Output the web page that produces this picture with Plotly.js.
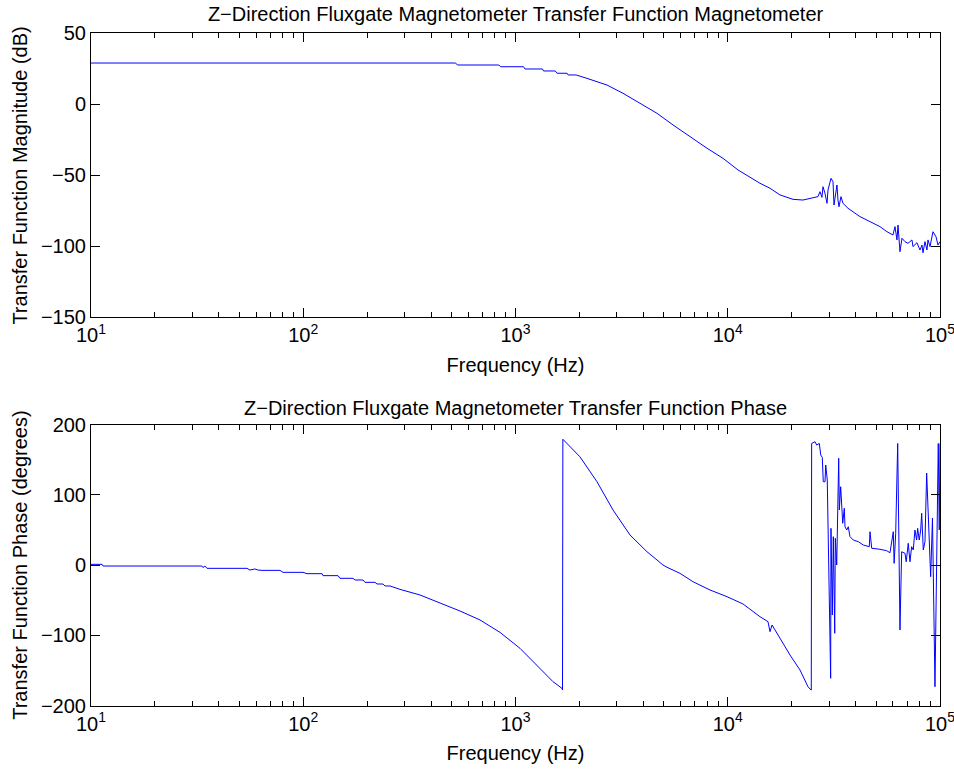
<!DOCTYPE html>
<html>
<head>
<meta charset="utf-8">
<script src="https://cdn.plot.ly/plotly-3.0.1.min.js"></script>
<style>html,body{margin:0;padding:0;background:#fff;}#chart{width:954px;height:770px;}</style>
</head>
<body>
<div id="chart"></div>
<script>
// ---- Data ----
const magFreq = [10, 520, 535, 835, 850, 1090, 1110, 1340, 1355, 1540, 1570, 1750, 1770, 1930,
  2172, 2699, 3210, 3860, 4642, 5521, 6640, 7986, 9497, 11180, 14190, 15820, 17630, 20300,
  22620, 25210, 26620, 27200, 27800, 28100, 28730, 29360, 29680, 30660, 31330, 31670, 32010,
  32710, 33070, 33430, 34170, 34910, 36870, 42000, 46800, 52150, 56270, 60060, 61380, 62730,
  63420, 64800, 66220, 68420, 70670, 73810, 74610, 77920, 80500, 82270, 83170, 84980, 86840,
  87800, 89740, 92690, 95750, 97860, 100000];
const magDb = [29.2, 29.2, 27.8, 27.8, 26.6, 26.6, 25.0, 25.0, 23.6, 23.6, 22.0, 22.0, 20.8, 20.8,
  18.4, 13.7, 7.9, 0.8, -6.2, -14.4, -22.7, -30.8, -37.9, -46.1, -55.5, -59, -63.7, -66.8,
  -67.3, -65.4, -64.9, -61.4, -65.4, -57.9, -62.6, -69.6, -60.2, -52, -54.4, -70.8, -64.9,
  -56.7, -67.3, -72, -64.9, -69.6, -73.1, -79, -82.5, -86, -89.6, -91.9, -86, -95.4,
  -84.9, -103.7, -94.2, -96.6, -97.8, -95.4, -100.1, -97.3, -102.5, -99, -104.4, -96.6, -102.5,
  -95.4, -100.1, -89.6, -93.1, -99, -96.6];

const phaseFreq = [10, 11.27, 11.4, 33.3, 33.7, 34.4, 35.2, 54.3, 56.1, 59.2, 61.1, 63.9, 77.7, 80.3,
  99.7, 104.2, 122.6, 123.9, 145.8, 149, 171.6, 175.4, 191.2, 195.4, 217.8, 222.6, 237.6, 242.8,
  256.3, 285.6, 354.8, 441, 547.6, 680.3, 845.3, 1050, 1305, 1502, 1656, 1665, 1672, 1748, 2013,
  2421, 2881, 3464, 4165, 4642, 4954, 5173, 5768, 5957, 6860, 8250, 9920, 11800, 14190, 15480,
  15820, 16170, 17630, 19650, 21900, 23880, 24680, 24750, 24850, 25770, 26250, 27010, 27430,
  27890, 28190, 28730, 28950, 29440, 30550, 30650, 31100, 31440, 31920, 32130, 32620, 33330,
  33560, 34060, 34810, 35420, 35690, 36360, 36980, 37670, 39040, 41230, 43520, 46450, 46800,
  47690, 52150, 56090, 58130, 60260, 60810, 61850, 63210, 64800, 66000, 68420, 69330, 70870,
  72210, 73540, 74830, 76230, 77640, 78480, 79860, 81130, 82000, 83440, 84980, 86560, 90390,
  92190, 94720, 98170, 99240, 100000];
const phaseDeg = [1.1, 1.1, -1.3, -1.3, -3.5, -1.3, -4.6, -4.6, -7, -5.5, -7, -7.5, -7.5, -10.3,
  -10.3, -12.2, -12.2, -15, -15, -18.8, -18.8, -21.2, -21.2, -24.5, -24.5, -26.9, -26.9, -29.7,
  -29.7, -34.5, -42.5, -53.4, -65.3, -78, -95.7, -118.4, -146.9, -165.8, -175.3, -177.5, 179, 173, 154,
  118.6, 78.4, 42.8, 19, 7.3, 0.1, -3.1, -9.4, -11.7, -23.6, -35.4, -44.9, -55.3, -73.4, -80.5,
  -94.7, -85.2, -104, -127.9, -149.2, -173, -177.7, -177.7, 173, 175.5, 170.8, 173, 156.6,
  153.3, 118.6, 118.6, 142.4, 121, -161, 52.3, -71, 40.4, -97, 38.1, 0.1, 151.9,
  78.4, 111.5, 59.5, 80.8, 54.6, 49.9, 54.6, 40.4, 35.7, 33.3, 28.6, 26.2, 47.5,
  23.9, 22.5, 20.5, 17.6, 47.5, 2.5, 45.2, 173, -92.3, 19, 16.8, 4.8, 31,
  4.8, 26.2, 21.5, 49.9, 35.7, 52.3, 35.7, 49.9, 73.7, 21.5, 33.3, 131, -16.5,
  67, -173, 173, 50, 173];

const decadeVals = [10, 100, 1000, 10000, 100000];
const decadeText = ['10<sup>1</sup>', '10<sup>2</sup>', '10<sup>3</sup>', '10<sup>4</sup>', '10<sup>5</sup>'];
const topTitle = 'Z\u2212Direction Fluxgate Magnetometer Transfer Function Magnetometer';
const bottomTitle = 'Z\u2212Direction Fluxgate Magnetometer Transfer Function Phase';
const xLabel = 'Frequency (Hz)';
const magLabel = 'Transfer Function Magnitude (dB)';
const phaseLabel = 'Transfer Function Phase (degrees)';

// minor ticks 2..9 of each decade
const minorVals = [];
for (let d = 10; d < 100000; d *= 10) for (let k = 2; k <= 9; k++) minorVals.push(d * k);

const FONT = 'Liberation Sans, Arial, Helvetica, sans-serif';
const FS = 20;
const lineStyle = {color: 'rgb(0,0,255)', width: 1};

const traces = [
  {x: magFreq, y: magDb, type: 'scatter', mode: 'lines', line: lineStyle, xaxis: 'x', yaxis: 'y', hoverinfo: 'skip'},
  {x: phaseFreq, y: phaseDeg, type: 'scatter', mode: 'lines', line: lineStyle, xaxis: 'x2', yaxis: 'y2', hoverinfo: 'skip'}
];

function xAxis(anchor) {
  return {
    type: 'log', range: [1, 5], domain: [0.0954, 0.9853], anchor: anchor,
    tickmode: 'array', tickvals: decadeVals, ticktext: decadeText,
    ticks: 'inside', ticklen: 9, tickcolor: '#000', tickwidth: 1,
    showline: true, linecolor: '#000', linewidth: 1, mirror: 'allticks',
    showgrid: false, zeroline: false, automargin: false,
    ticklabeloverflow: 'allow',
    tickfont: {family: FONT, size: FS, color: '#000'},
    minor: {tickmode: 'array', tickvals: minorVals, ticks: 'inside', ticklen: 5, tickcolor: '#000', showgrid: false},
    title: {text: xLabel, font: {family: FONT, size: FS, color: '#000'}, standoff: 12}
  };
}
function yAxis(anchor, domain, range, dtick, label) {
  return {
    range: range, domain: domain, anchor: anchor, tick0: 0, dtick: dtick,
    ticks: 'inside', ticklen: 9, tickcolor: '#000', tickwidth: 1,
    showline: true, linecolor: '#000', linewidth: 1, mirror: 'allticks',
    showgrid: false, zeroline: false, automargin: false,
    ticklabeloverflow: 'allow',
    tickfont: {family: FONT, size: FS, color: '#000'},
    title: {text: label, font: {family: FONT, size: FS, color: '#000'}, standoff: 7}
  };
}

const layout = {
  width: 954, height: 770,
  margin: {l: 0, r: 0, t: 0, b: 0},
  paper_bgcolor: '#fff', plot_bgcolor: '#fff',
  showlegend: false,
  font: {family: FONT, size: FS, color: '#000'},
  title: {text: topTitle, font: {family: FONT, size: FS, color: '#000'},
          x: 0.5404, xanchor: 'center', xref: 'paper', y: 0.982, yanchor: 'middle', yref: 'container'},
  xaxis: xAxis('y'),
  yaxis: yAxis('x', [0.5877, 0.9565], [-150, 50], 50, magLabel),
  xaxis2: xAxis('y2'),
  yaxis2: yAxis('x2', [0.0835, 0.4487], [-200, 200], 100, phaseLabel),
  annotations: [{
    text: bottomTitle, xref: 'paper', yref: 'paper', x: 0.5404, y: 0.4701,
    xanchor: 'center', yanchor: 'middle', showarrow: false,
    font: {family: FONT, size: FS, color: '#000'}
  }]
};

Plotly.newPlot('chart', traces, layout, {staticPlot: true, displayModeBar: false});
</script>
</body>
</html>
